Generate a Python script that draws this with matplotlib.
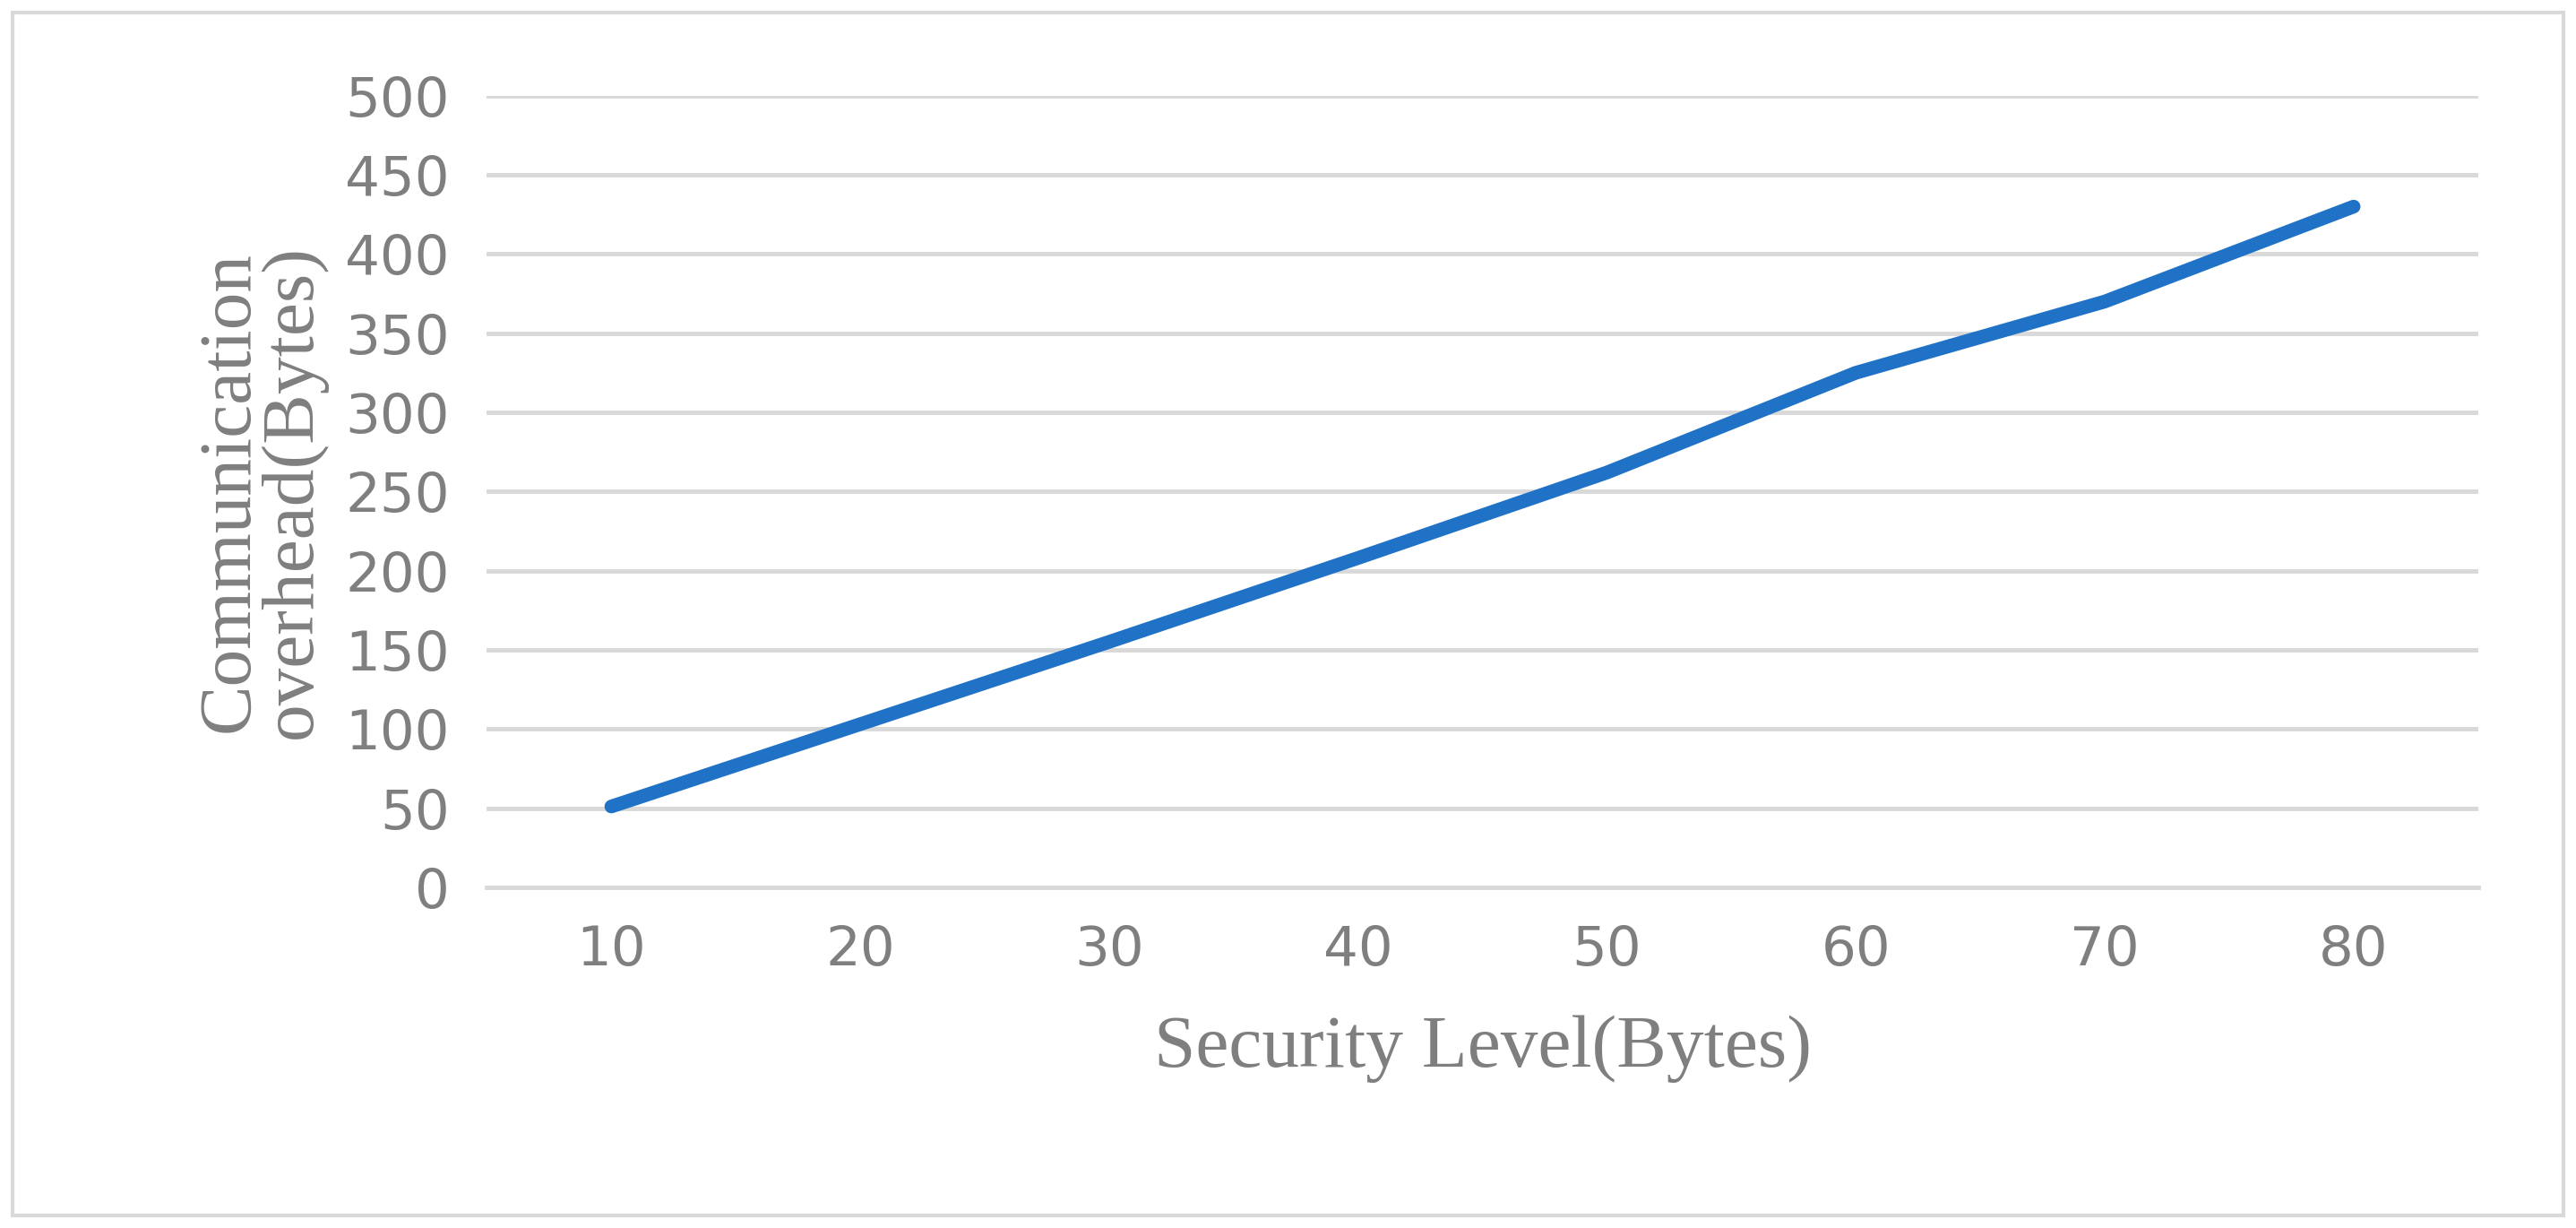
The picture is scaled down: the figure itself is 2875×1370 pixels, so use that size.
import matplotlib
matplotlib.use("Agg")
import matplotlib.pyplot as plt
from matplotlib.patches import Rectangle

categories = ["10", "20", "30", "40", "50", "60", "70", "80"]
values = [51, 103, 155, 208, 262, 325, 370, 430]
yticks = [0, 50, 100, 150, 200, 250, 300, 350, 400, 450, 500]

fig = plt.figure(figsize=(28.75, 13.7), dpi=100)
fig.patches.append(Rectangle((0.005, 0.01), 0.99, 0.98, transform=fig.transFigure,
                             fill=False, edgecolor="#d9d9d9", linewidth=3))
ax = fig.add_axes([0.189, 0.2775, 0.773, 0.6445])
x = list(range(len(categories)))
ax.plot(x, values, color="#1f72c6", linewidth=11, solid_capstyle="round")
ax.set_xlim(-0.5, len(categories) - 0.5)
ax.set_ylim(0, 500)
ax.set_yticks(yticks)
ax.set_xticks(x)
ax.set_xticklabels(categories)
ax.grid(axis="y", color="#d9d9d9", linewidth=3.5)
ax.set_axisbelow(True)
for s in ["top", "right", "left"]:
    ax.spines[s].set_visible(False)
ax.spines["bottom"].set_color("#d9d9d9")
ax.spines["bottom"].set_linewidth(3.5)
ax.tick_params(length=0, labelsize=44, colors="#7f7f7f", pad=30)
ax.set_xlabel("Security Level(Bytes)", fontsize=60, color="#7f7f7f",
              family="Liberation Serif", labelpad=30)
ax.set_ylabel("Communication\noverhead(Bytes)", fontsize=60, color="#7f7f7f",
              family="Liberation Serif", labelpad=15, linespacing=0.9)
fig.savefig("out.png", dpi=100)
